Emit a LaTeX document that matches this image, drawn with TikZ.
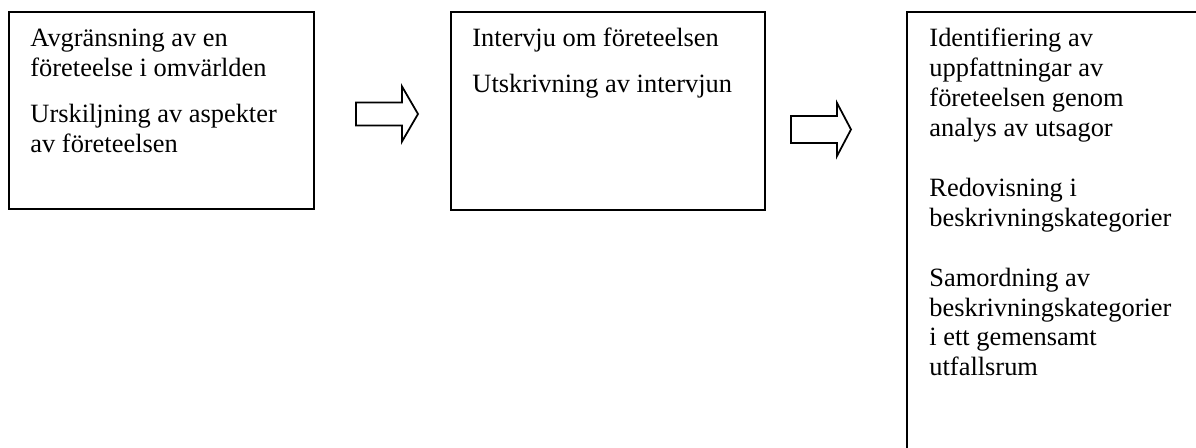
\documentclass[tikz,border=0pt]{standalone}
\usepackage{fontspec}
\setmainfont{Liberation Serif}
\usetikzlibrary{fit}
\begin{document}
\begin{tikzpicture}[x=0.45455pt,y=-0.45455pt,
  stage/.style={draw, line width=0.9pt, rectangle, inner sep=0pt},
  linetext/.style={anchor=base west, inner sep=0pt,
    font=\fontsize{12pt}{13.64pt}\selectfont},
  flowarrow/.style={draw, line width=0.8pt}]
\useasboundingbox (0,0) rectangle (1196,448);
\clip (0,0) rectangle (1196,448);

% the three stage boxes (the last one runs off the page)
\node[stage, fit={(9,12) (314,209)}] (b1) {};
\node[stage, fit={(451,12) (765,210)}] (b2) {};
\node[stage, fit={(907,12) (1240,480)}] (b3) {};

% block arrows between the stages, drawn from the middle of their tail
\coordinate (a1) at (356,114);
\coordinate (a2) at (791,129.5);
\draw[flowarrow] (a1) ++(0,-11.5) -- ++(46,0) -- ++(0,-16) -- ++(16,27.5)
  -- ++(-16,27.5) -- ++(0,-16) -- ++(-46,0) -- cycle;
\draw[flowarrow] (a2) ++(0,-13.5) -- ++(46,0) -- ++(0,-13) -- ++(14,26.5)
  -- ++(-14,26.5) -- ++(0,-13) -- ++(-46,0) -- cycle;

% stage texts, one node per printed line (baselines given)
\foreach \y/\txt [count=\i] in {47/Avgränsning av en,
    77/företeelse i omvärlden, 123/Urskiljning av aspekter,
    153/av företeelsen}
  \node[linetext] (s1-\i) at (30,\y) {\txt};
\foreach \y/\txt [count=\i] in {47/Intervju om företeelsen,
    93/Utskrivning av intervjun}
  \node[linetext] (s2-\i) at (472,\y) {\txt};
\foreach \y/\txt [count=\i] in {47/Identifiering av, 77/uppfattningar av,
    107/företeelsen genom, 137/analys av utsagor, 197/Redovisning i,
    227/beskrivningskategorier, 287/Samordning av,
    317/beskrivningskategorier, 346/i ett gemensamt, 376/utfallsrum}
  \node[linetext] (s3-\i) at (929,\y) {\txt};
\end{tikzpicture}
\end{document}
